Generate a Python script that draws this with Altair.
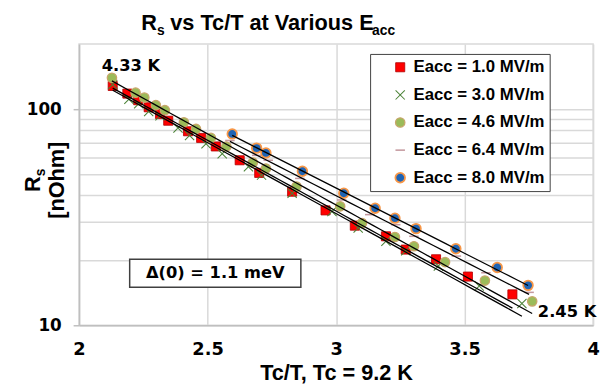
import altair as alt
import pandas as pd

FONT = "Liberation Sans"
NUMFONT = "DejaVu Sans"

SERIES = ["Eacc = 1.0 MV/m", "Eacc = 3.0 MV/m", "Eacc = 4.6 MV/m",
          "Eacc = 6.4 MV/m", "Eacc = 8.0 MV/m"]

# Tc/T values and Rs [nOhm]
tct_e10 = [2.131, 2.188, 2.230, 2.271, 2.315, 2.347, 2.424, 2.475, 2.532, 2.625,
           2.701, 2.829, 2.959, 3.073, 3.194, 3.271, 3.389, 3.513, 3.686]
rs_e10 = [128, 118, 110, 102, 94.9, 88.4, 79.0, 73.6, 67.2, 58.0,
          50.7, 41.5, 34.0, 28.9, 25.8, 22.4, 20.2, 16.8, 13.9]

tct_e30 = [2.131, 2.194, 2.232, 2.271, 2.315, 2.385, 2.430, 2.494, 2.557, 2.659,
           2.710, 2.829, 2.984, 3.086, 3.194, 3.271, 3.398, 3.557, 3.723]
rs_e30 = [130, 111, 106, 97.6, 93.2, 81.8, 75.5, 69.2, 62.2, 54.1,
          49.5, 40.8, 33.6, 28.2, 24.5, 22.1, 18.8, 15.2, 12.6]

tct_e46 = [2.128, 2.220, 2.254, 2.299, 2.334, 2.408, 2.455, 2.513, 2.573, 2.676,
           2.727, 2.846, 3.016, 3.101, 3.229, 3.303, 3.424, 3.579, 3.763]
rs_e46 = [139.7, 119.2, 113.1, 104.3, 98.9, 86.9, 81.0, 73.6, 67.2, 56.6,
          53.1, 43.8, 35.5, 29.7, 25.6, 23.2, 19.6, 16.1, 12.9]

tct_e64 = [2.587, 2.691, 2.736, 2.859, 3.022, 3.131, 3.232, 3.303, 3.468, 3.583, 3.751]
rs_e64 = [71.6, 61.1, 58.0, 47.8, 38.0, 32.5, 29.2, 25.8, 20.9, 17.5, 14.2]

tct_e80 = [2.596, 2.691, 2.727, 2.869, 3.030, 3.152, 3.229, 3.311, 3.466, 3.627, 3.747]
rs_e80 = [76.8, 66.0, 62.7, 51.6, 40.8, 34.8, 31.3, 28.0, 22.6, 18.5, 15.3]

# annotations
ann_text = ["4.33 K", "2.45 K"]
ann_tct = [2.088, 3.785]
ann_rs = [158.8, 11.5]
gap_text = ["\u0394(0) = 1.1 meV"]
gap_box_tct = [2.197]
gap_box_tct2 = [2.863]
gap_box_rs = [15.0]
gap_box_rs2 = [20.2]
gap_tct = [2.53]
gap_rs = [17.4]

X_TITLE = "Tc/T, Tc = 9.2 K"

rows = []
for name, xs, ys in zip(SERIES, [tct_e10, tct_e30, tct_e46, tct_e64, tct_e80],
                        [rs_e10, rs_e30, rs_e46, rs_e64, rs_e80]):
    for a, b in zip(xs, ys):
        rows.append({"series": name, "tct": a, "rs": b})
df = pd.DataFrame(rows)

fills = ["#FF0000", "#4E8B3A", "#9BBB59", "#C4989E", "#1F64B4"]
strokes = ["#B00000", "#4A8236", "#C8A56A", "#C4989E", "#F79646"]
shapes = ["square", "M-1,-1L1,1M-1,1L1,-1", "circle", "stroke", "circle"]
sizes = [85, 95, 85, 40, 30]
widths = [0.8, 1.8, 1.2, 2.2, 2.0]

xscale = alt.Scale(domain=[2, 4], nice=False, zero=False)
yscale = alt.Scale(type="log", domain=[10, 200], nice=False)

x_axis = alt.Axis(values=[2, 2.5, 3, 3.5, 4], format="~g", ticks=False,
                  labelFont=NUMFONT, labelFontSize=18, labelFontWeight="bold",
                  labelColor="black", labelPadding=16, labelFlush=False,
                  titleFont=FONT, titleFontSize=22, titleFontWeight="bold",
                  titleColor="black", titlePadding=4,
                  gridColor="#D9D9D9", gridWidth=1.5, domainColor="#BFBFBF",
                  domainWidth=1.5)
y_axis = alt.Axis(values=[10, 20, 30, 40, 50, 60, 70, 80, 90, 100],
                  labelExpr="datum.value == 10 ? '10' : datum.value == 100 ? '100' : ''",
                  tickOpacity={"condition": {"test": "datum.value == 10 || datum.value == 100",
                                             "value": 1}, "value": 0},
                  tickSize=6, tickColor="#BFBFBF", tickWidth=1.5,
                  labelFont=NUMFONT, labelFontSize=17, labelFontWeight="bold",
                  labelColor="black", labelPadding=12,
                  gridColor="#D9D9D9", gridWidth=1.5, domainColor="#BFBFBF",
                  domainWidth=1.5)


def X(field="tct"):
    return alt.X(f"{field}:Q", scale=xscale, axis=x_axis, title=X_TITLE)


def Y(field="rs"):
    return alt.Y(f"{field}:Q", scale=yscale, axis=y_axis, title=None)


leg = alt.Legend(title=None,
                 labelExpr="datum.label + '\u00a0\u00a0\u00a0\u00a0\u00a0'")
points = alt.Chart(df).mark_point(filled=True, opacity=1).encode(
    x=X(), y=Y(),
    fill=alt.Fill("series:N", scale=alt.Scale(domain=SERIES, range=fills), legend=leg),
    stroke=alt.Stroke("series:N", scale=alt.Scale(domain=SERIES, range=strokes), legend=leg),
    shape=alt.Shape("series:N", scale=alt.Scale(domain=SERIES, range=shapes), legend=leg),
    size=alt.Size("series:N", scale=alt.Scale(domain=SERIES, range=sizes), legend=leg),
    strokeWidth=alt.StrokeWidth("series:N", scale=alt.Scale(domain=SERIES, range=widths), legend=leg),
)

trend = alt.Chart(df).transform_regression(
    "tct", "rs", method="exp", groupby=["series"]
).mark_line(color="black", strokeWidth=1.3).encode(
    x=X(), y=Y(), detail="series:N",
)

ann_df = pd.DataFrame({"label": ann_text, "tct": ann_tct, "rs": ann_rs})
ann = alt.Chart(ann_df).mark_text(font=NUMFONT, fontWeight="bold", fontSize=16.5,
                                  align="left", baseline="middle", color="black").encode(
    x=X(), y=Y(), text="label:N",
)

box_df = pd.DataFrame({"tct": gap_box_tct, "tct2": gap_box_tct2,
                       "rs": gap_box_rs, "rs2": gap_box_rs2})
box = alt.Chart(box_df).mark_rect(fill="white", stroke="#404040", strokeWidth=1.5).encode(
    x=X(), x2=alt.X2("tct2:Q", title=X_TITLE),
    y=Y(), y2=alt.Y2("rs2:Q", title=None),
)
gap_df = pd.DataFrame({"label": gap_text, "tct": gap_tct, "rs": gap_rs})
gap = alt.Chart(gap_df).mark_text(font=NUMFONT, fontWeight="bold", fontSize=16.5,
                                  align="center", baseline="middle", color="black").encode(
    x=X(), y=Y(), text="label:N",
)


def txt(s, x, y, size, angle=0, align="left", baseline="alphabetic"):
    return alt.Chart(alt.InlineData(values=[{"t": s}])).mark_text(
        font=FONT, fontWeight="bold", fontSize=size, align=align,
        baseline=baseline, angle=angle, color="black"
    ).encode(x=alt.value(x), y=alt.value(y), text="t:N")


title_parts = [
    txt("R", 63, -14, 22),
    txt("s", 78.9, -9, 14),
    txt("vs Tc/T at Various E", 92.5, -14, 22),
    txt("acc", 297, -9, 14),
]
ytitle_parts = [
    txt("R", -40, 150, 22, angle=270),
    txt("s", -35, 134, 14, angle=270),
    txt("[nOhm]", -22, 138, 22, angle=270, align="center", baseline="middle"),
]

chart = alt.layer(points, trend, box, gap, ann, *title_parts, *ytitle_parts).properties(
    width=521, height=285,
    autosize=alt.AutoSizeParams(type="none"),
    padding={"left": 72, "top": 34, "right": 8, "bottom": 60},
).configure_view(
    stroke="#D9D9D9", strokeWidth=1.5
).configure_legend(
    orient="none", legendX=295, legendY=10, padding=5,
    strokeColor="#404040", fillColor="white",
    labelFont=FONT, labelFontSize=17, labelFontWeight="bold", labelColor="black",
    labelLimit=400, rowPadding=10, symbolOffset=17, labelOffset=5,
)

chart.save("out.html", embed_options={"renderer": "svg", "actions": False})
